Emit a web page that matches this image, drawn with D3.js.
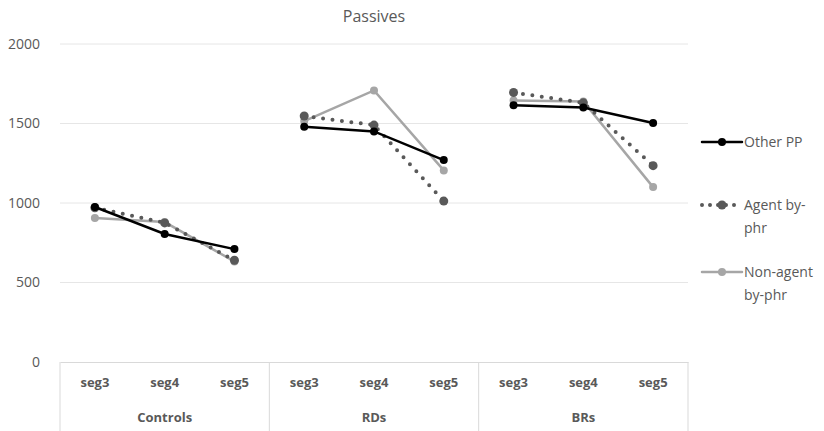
<!DOCTYPE html>
<html>
<head>
<meta charset="utf-8">
<script src="https://cdn.jsdelivr.net/npm/d3@7"></script>
<style>
  body { margin: 0; background: #fff; }
  text { font-family: "Open Sans", "Noto Sans", sans-serif; fill: #595959; }
</style>
</head>
<body>
<div class="chart"></div>
<script>
// DATA ------------------------------
const groups = ["Controls", "RDs", "BRs"];
const segs = ["seg3", "seg4", "seg5"];
const seriesNames = ["Other PP", "Agent by-phr", "Non-agent by-phr"];
const otherPP = [975, 805, 710, 1480, 1450, 1270, 1615, 1600, 1503];
const agentByPhr = [970, 875, 640, 1547, 1490, 1012, 1695, 1630, 1235];
const nonAgentByPhr = [905, 880, 632, 1515, 1708, 1205, 1645, 1638, 1100];
const yTicks = [0, 500, 1000, 1500, 2000];

// CHART INIT ------------------------------
let margin = { top: 44, right: 136, bottom: 69, left: 60 },
  width = 824 - margin.left - margin.right,
  height = 431 - margin.top - margin.bottom;

let svg = d3.select(".chart")
  .append("svg")
  .attr("width", 824)
  .attr("height", 431)
  .append("g")
  .attr("transform", "translate(" + margin.left + "," + margin.top + ")");

// one band per group/segment pair
let keys = [];
groups.forEach(g => segs.forEach(s => keys.push(g + "|" + s)));

let x = d3.scaleBand().domain(keys).range([0, width]);
let xGroup = d3.scaleBand().domain(groups).range([0, width]);
let y = d3.scaleLinear().domain([0, 2000]).range([height, 0]);

// gridlines
svg.append("g")
  .selectAll("line")
  .data(yTicks.filter(d => d > 0))
  .join("line")
  .attr("x1", 0).attr("x2", width)
  .attr("y1", d => y(d)).attr("y2", d => y(d))
  .attr("stroke", "#e6e6e6")
  .attr("stroke-width", 1);

// y axis labels
let yAxis = d3.axisLeft(y).tickValues(yTicks).tickSize(0).tickPadding(20).tickFormat(d3.format("d"));
let yAxisGroup = svg.append("g").call(yAxis);
yAxisGroup.select(".domain").remove();
yAxisGroup.selectAll("text")
  .style("font-size", "14px")
  .attr("fill", "#595959");

// x axis (two levels)
let xAxis = d3.axisBottom(x).tickSize(0).tickPadding(16).tickFormat(d => d.split("|")[1]);
let xAxisGroup = svg.append("g")
  .attr("transform", "translate(0," + height + ")")
  .call(xAxis);
xAxisGroup.select(".domain").attr("stroke", "#d9d9d9");
xAxisGroup.selectAll("text")
  .style("font-size", "13px")
  .style("font-weight", "bold")
  .attr("fill", "#595959");

// group separators
svg.append("g")
  .selectAll("line")
  .data(groups.map(g => xGroup(g)).concat([width]))
  .join("line")
  .attr("x1", d => d).attr("x2", d => d)
  .attr("y1", height).attr("y2", height + margin.bottom)
  .attr("stroke", "#d9d9d9");

svg.append("g")
  .selectAll("text")
  .data(groups)
  .join("text")
  .attr("x", d => xGroup(d) + xGroup.bandwidth() / 2)
  .attr("y", height + 60)
  .attr("text-anchor", "middle")
  .style("font-size", "13px")
  .style("font-weight", "bold")
  .text(d => d);

// title
svg.append("text")
  .attr("x", width / 2)
  .attr("y", -22)
  .attr("text-anchor", "middle")
  .style("font-size", "16px")
  .text("Passives");

// SERIES ------------------------------
let series = [
  { name: seriesNames[0], values: otherPP, color: "#000000", dash: null, r: 4, w: 2.5 },
  { name: seriesNames[1], values: agentByPhr, color: "#595959", dash: "0,9.5", r: 4.5, w: 4 },
  { name: seriesNames[2], values: nonAgentByPhr, color: "#a6a6a6", dash: null, r: 4, w: 2.5 }
];

// draw in reverse so Other PP sits on top
series.slice().reverse().forEach(s => {
  let g = svg.append("g");
  groups.forEach((grp, gi) => {
    let vals = s.values.slice(gi * 3, gi * 3 + 3);
    g.append("path")
      .datum(vals)
      .attr("fill", "none")
      .attr("stroke", s.color)
      .attr("stroke-width", s.w)
      .attr("stroke-linecap", "round")
      .attr("stroke-dasharray", s.dash)
      .attr("d", d3.line()
        .x((d, i) => x(keys[gi * 3 + i]) + x.bandwidth() / 2)
        .y(d => y(d)));
  });
  g.selectAll("circle")
    .data(s.values)
    .join("circle")
    .attr("cx", (d, i) => x(keys[i]) + x.bandwidth() / 2)
    .attr("cy", d => y(d))
    .attr("r", s.r)
    .attr("fill", s.color);
});

// LEGEND ------------------------------
let legendY = [142, 205, 272];
let legend = d3.select("svg").append("g");
series.forEach((s, i) => {
  let ly = legendY[i];
  legend.append("line")
    .attr("x1", 702).attr("x2", 742)
    .attr("y1", ly).attr("y2", ly)
    .attr("stroke", s.color)
    .attr("stroke-width", s.w)
    .attr("stroke-linecap", "round")
    .attr("stroke-dasharray", s.dash ? "0,8" : null);
  legend.append("circle")
    .attr("cx", 722).attr("cy", ly).attr("r", s.r)
    .attr("fill", s.color);
  let words = i === 0 ? ["Other PP"] : i === 1 ? ["Agent by-", "phr"] : ["Non-agent", "by-phr"];
  let t = legend.append("text")
    .attr("x", 744)
    .attr("y", ly + 5)
    .style("font-size", "14px");
  words.forEach((w, j) => {
    t.append("tspan").attr("x", 744).attr("dy", j === 0 ? 0 : 23).text(w);
  });
});
</script>
</body>
</html>
